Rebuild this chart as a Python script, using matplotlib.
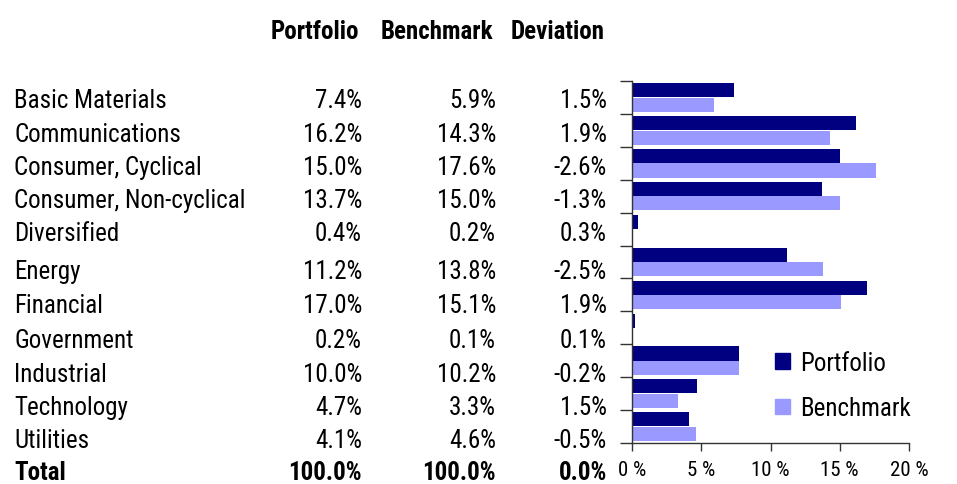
import matplotlib
matplotlib.use("Agg")
import matplotlib.pyplot as plt
from matplotlib.patches import Patch
from matplotlib import font_manager

# table data
sectors = ["Basic Materials", "Communications", "Consumer, Cyclical",
           "Consumer, Non-cyclical", "Diversified", "Energy", "Financial",
           "Government", "Industrial", "Technology", "Utilities"]
portfolio = [7.4, 16.2, 15.0, 13.7, 0.4, 11.2, 17.0, 0.2, 10.0, 4.7, 4.1]
benchmark = [5.9, 14.3, 17.6, 15.0, 0.2, 13.8, 15.1, 0.1, 10.2, 3.3, 4.6]
deviation = [1.5, 1.9, -2.6, -1.3, 0.3, -2.5, 1.9, 0.1, -0.2, 1.5, -0.5]
totals = [100.0, 100.0, 0.0]

# bar lengths as drawn in the chart (industrial bars differ from the table)
bar_portfolio = [7.4, 16.2, 15.0, 13.7, 0.4, 11.2, 17.0, 0.2, 7.75, 4.7, 4.1]
bar_benchmark = [5.9, 14.3, 17.6, 15.0, 0.1, 13.8, 15.1, 0.1, 7.75, 3.3, 4.6]
xticks = [0, 5, 10, 15, 20]

names = {f.name for f in font_manager.fontManager.ttflist}
FONT = "Liberation Sans Narrow" if "Liberation Sans Narrow" in names else "Roboto Condensed"
if FONT not in names:
    FONT = "Roboto"
plt.rcParams["font.family"] = [FONT, "DejaVu Sans"]

W, H = 957, 485
fig = plt.figure(figsize=(W / 100, H / 100), dpi=100)


def fx(px):
    return px / W


def fy(py):
    return 1 - py / H


# table text
header_y = 39
row_base = [108, 142, 175, 208, 241, 279, 313, 348, 382, 415, 448]
total_y = 480
col_right = [362, 496, 607]
head_right = [359, 493, 605]
fs = 18

for txt, xr in zip(["Portfolio", "Benchmark", "Deviation"], head_right):
    fig.text(fx(xr), fy(header_y), txt, ha="right", va="baseline",
             fontsize=fs, fontweight="bold")

for i, name in enumerate(sectors):
    y = fy(row_base[i])
    fig.text(fx(14), y, name, ha="left", va="baseline", fontsize=fs)
    vals = [portfolio[i], benchmark[i], deviation[i]]
    for v, xr in zip(vals, col_right):
        fig.text(fx(xr), y, f"{v:.1f}%", ha="right", va="baseline", fontsize=fs)

fig.text(fx(14), fy(total_y), "Total", ha="left", va="baseline",
         fontsize=fs, fontweight="bold")
for v, xr in zip(totals, col_right):
    fig.text(fx(xr), fy(total_y), f"{v:.1f}%", ha="right", va="baseline",
             fontsize=fs, fontweight="bold")

# bar chart
ax_l, ax_r, ax_t, ax_b = 632, 909, 82, 444
ax = fig.add_axes([fx(ax_l), fy(ax_b), (ax_r - ax_l) / W, (ax_b - ax_t) / H])

navy = "#000080"
lav = "#9999ff"
n = len(sectors)
pos = list(range(n))
h = 0.43
ax.barh([p - h / 2 - 0.005 for p in pos], bar_portfolio, height=h, color=navy)
ax.barh([p + h / 2 + 0.005 for p in pos], bar_benchmark, height=h, color=lav)

ax.set_xlim(0, 20)
ax.set_ylim(n - 0.5, -0.5)
ax.set_yticks([p - 0.5 for p in range(n + 1)])
ax.set_yticklabels([])
ax.set_xticks(xticks)
ax.set_xticklabels([f"{t} %" for t in xticks], fontsize=15)
ax.tick_params(axis="y", length=9, width=1, color="#333333")
ax.tick_params(axis="x", length=6, width=1, color="#333333", pad=6)
for s in ["top", "right"]:
    ax.spines[s].set_visible(False)
for s in ["left", "bottom"]:
    ax.spines[s].set_color("#333333")
    ax.spines[s].set_linewidth(1)

handles = [Patch(color=navy, label="Portfolio"), Patch(color=lav, label="Benchmark")]
fig.legend(handles=handles, loc="upper left",
           bbox_to_anchor=(fx(775), fy(352)), frameon=False, fontsize=fs,
           handlelength=0.6, handleheight=0.6, handletextpad=0.4,
           labelspacing=0.85, borderpad=0, borderaxespad=0)

fig.savefig("out.png", dpi=100)
